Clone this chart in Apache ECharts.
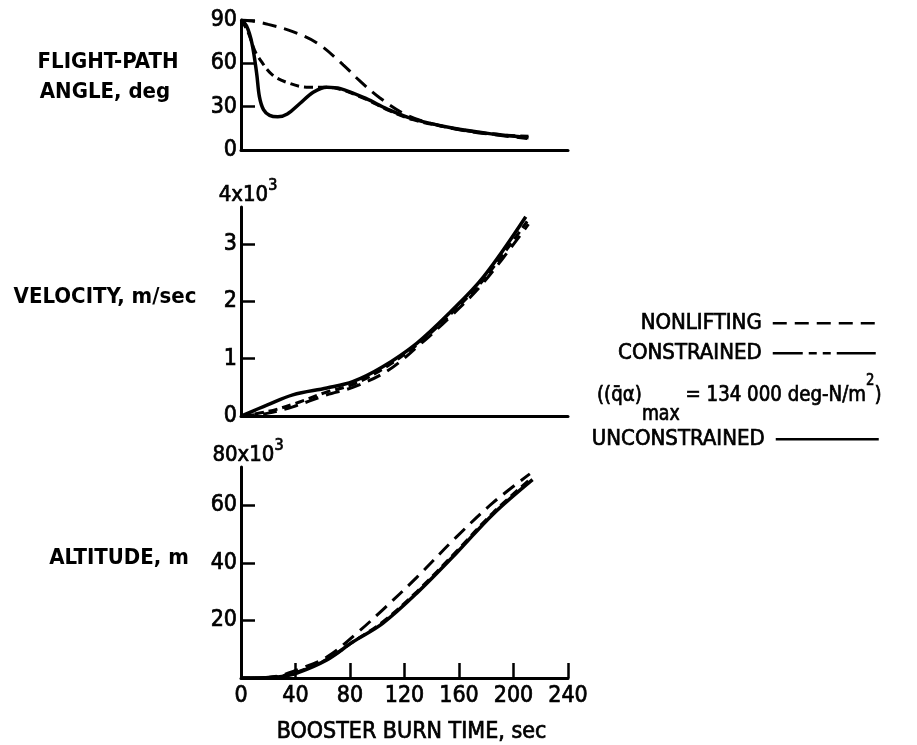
<!DOCTYPE html>
<html>
<head>
<meta charset="utf-8">
<title>Booster burn trajectories</title>
<script src="https://cdn.jsdelivr.net/npm/echarts@6/dist/echarts.min.js"></script>
<style>
    html, body { margin: 0; padding: 0; background: #fff; }
    #chart { width: 917px; height: 745px; }
</style>
</head>
<body>
<div id="chart"></div>
<script>
// series names
var names = ['NONLIFTING', 'CONSTRAINED', 'UNCONSTRAINED'];

// flight-path angle, deg
var fpaNonT = [0, 10, 20, 38, 56, 75, 87, 102, 122, 141, 170, 210];
var fpaNonV = [90, 89, 87, 82, 74, 59, 48, 36, 24, 18, 12.5, 8];
var fpaConT = [0, 5, 10, 13, 23, 36, 48, 58, 68, 92, 107, 126, 156, 185, 211];
var fpaConV = [90, 82, 69, 64, 52, 46, 43.5, 43.5, 43, 35, 28, 21, 15, 11, 9.5];
var fpaUncT = [0, 4, 8, 11.5, 13.5, 16.5, 21, 27, 34, 43, 53, 63, 73, 92, 107, 126, 156, 185, 211];
var fpaUncV = [90, 86, 74, 53, 37, 28, 24, 23, 25, 32, 40, 43.5, 42.5, 35.5, 28.5, 21.5, 15, 11, 8.5];

// velocity, 10^3 m/sec
var velNonT = [0, 20, 38, 63, 82, 107, 129, 153, 178, 211];
var velNonV = [0, 0.05, 0.16, 0.37, 0.5, 0.78, 1.2, 1.72, 2.33, 3.35];
var velConT = [0, 20, 40, 63, 82, 104, 129, 153, 178, 210];
var velConV = [0, 0.08, 0.22, 0.42, 0.55, 0.82, 1.24, 1.76, 2.38, 3.4];
var velUncT = [0, 10, 19, 38, 63, 82, 104, 129, 153, 178, 209];
var velUncV = [0, 0.1, 0.19, 0.37, 0.49, 0.6, 0.86, 1.27, 1.8, 2.43, 3.48];

// altitude, 10^3 m
var altNonT = [0, 20, 30, 41, 63, 85, 104, 129, 158, 185, 212];
var altNonV = [0, 0.3, 1, 2.8, 7.3, 15.6, 23.7, 35, 49, 61, 71];
var altConT = [0, 20, 30, 41, 63, 82, 104, 129, 158, 185, 213];
var altConV = [0, 0.2, 0.7, 2, 6.5, 12.5, 19.5, 30, 44, 57.5, 69.5];
var altUncT = [0, 20, 30, 41, 63, 82, 104, 129, 158, 185, 214];
var altUncV = [0, 0.1, 0.5, 1.7, 6.3, 12.5, 19, 29.5, 43.4, 57, 69];

// tick labels
var timeTicks = [0, 40, 80, 120, 160, 200, 240];
var fpaTicks = [0, 30, 60, 90];
var velTicks = [0, 1, 2, 3];
var altTicks = [20, 40, 60];

var FONT = "'Liberation Sans Narrow','DejaVu Sans Condensed',sans-serif";
var INK = '#000';

function pairs(t, v) {
    var out = [];
    for (var i = 0; i < t.length; i++) out.push([t[i], v[i]]);
    return out;
}

var dashStyle = [[14, 8], [9, 5], 'solid'];
var widths = [3, 3, 3.5];

function mkSeries(idx, name, t, v) {
    var k = names.indexOf(name);
    return {
        name: name, type: 'line', xAxisIndex: idx, yAxisIndex: idx,
        data: pairs(t, v), smooth: 0.35, symbol: 'none', silent: true,
        lineStyle: { color: INK, width: widths[k], type: dashStyle[k] },
        itemStyle: { color: INK }
    };
}

// heavier strokes like the scanned type
var ink = { textBorderColor: INK, textBorderWidth: 0.7 };

var axisLine = { show: true, onZero: false, lineStyle: { color: INK, width: 3 } };
var labelStyle = Object.assign({ color: INK, fontSize: 23, fontFamily: FONT }, ink);
var supRich = {
    a: Object.assign({ fontSize: 22, fontFamily: FONT, color: INK, lineHeight: 28, verticalAlign: 'bottom' }, ink),
    s: Object.assign({ fontSize: 16, fontFamily: FONT, color: INK, lineHeight: 16, verticalAlign: 'top' }, ink)
};

function mkX(idx, top) {
    var ax = {
        gridIndex: idx, type: 'value', min: 0, max: 240, interval: 40,
        axisLine: axisLine, splitLine: { show: false },
        axisTick: { show: false }, axisLabel: { show: false }
    };
    if (!top) {
        ax.axisTick = { show: true, inside: true, length: 15, customValues: timeTicks.slice(1),
            lineStyle: { color: INK, width: 2.5 } };
        ax.axisLabel = Object.assign({ show: true, margin: 7, customValues: timeTicks }, labelStyle);
        ax.name = 'BOOSTER BURN TIME, sec';
        ax.nameLocation = 'middle';
        ax.nameGap = 43;
        ax.nameTextStyle = Object.assign({ color: INK, fontSize: 23, fontFamily: FONT, padding: [0, 0, 0, 14] }, ink);
    }
    return ax;
}

function mkY(idx, max, ticks, labels, name) {
    var ax = {
        gridIndex: idx, type: 'value', min: 0, max: max,
        axisLine: axisLine, splitLine: { show: false },
        axisTick: { show: true, inside: true, length: 14, customValues: ticks,
            lineStyle: { color: INK, width: 2.5 } },
        axisLabel: Object.assign({ margin: 4, customValues: labels }, labelStyle)
    };
    if (name) {
        ax.name = name;
        ax.nameLocation = 'end';
        ax.nameGap = 1;
        ax.nameTextStyle = { rich: supRich, align: 'center', padding: [0, 0, 0, 14] };
    }
    return ax;
}

var chart = echarts.init(document.getElementById('chart'), null, { renderer: 'canvas' });

var legendBase = {
    orient: 'horizontal', align: 'right', selectedMode: false,
    itemWidth: 103, itemHeight: 12, itemGap: 0, padding: 0,
    itemStyle: { opacity: 0, borderWidth: 0 },
    textStyle: Object.assign({ color: INK, fontSize: 22, fontFamily: FONT, padding: [0, 6, 0, 0] }, ink)
};

var titleStyle = { textAlign: 'center', textVerticalAlign: 'middle', fill: INK,
    fontSize: 22, fontFamily: FONT, fontWeight: 'bold' };
var noteText = { fontFamily: FONT, fill: INK, stroke: INK, lineWidth: 0.7 };

var option = {
    backgroundColor: '#fff',
    animation: false,
    grid: [
        { left: 241, width: 327, top: 20, height: 130, outerBoundsMode: 'none' },
        { left: 241, width: 327, top: 207, height: 209, outerBoundsMode: 'none' },
        { left: 241, width: 327, top: 467, height: 211, outerBoundsMode: 'none' }
    ],
    xAxis: [mkX(0, true), mkX(1, true), mkX(2, false)],
    yAxis: [
        mkY(0, 90, fpaTicks.slice(1), fpaTicks),
        mkY(1, 3.65, velTicks.slice(1), velTicks, '{a|4x10}{s|3}'),
        mkY(2, 73.4, altTicks, altTicks, '{a|80x10}{s|3}')
    ],
    legend: [
        Object.assign({}, legendBase, { data: ['NONLIFTING'], right: 40, top: 312,
            lineStyle: { width: 2.5 } }),
        Object.assign({}, legendBase, { data: ['CONSTRAINED'], right: 40, top: 342,
            lineStyle: { width: 2.5, type: [30, 6, 8, 6, 8, 6, 40] } }),
        Object.assign({}, legendBase, { data: ['UNCONSTRAINED'], right: 37, top: 428,
            lineStyle: { width: 2.5 } })
    ],
    graphic: [
        { type: 'text', x: 108, y: 62, style: Object.assign({ text: 'FLIGHT-PATH' }, titleStyle) },
        { type: 'text', x: 105, y: 92, style: Object.assign({ text: 'ANGLE, deg' }, titleStyle) },
        { type: 'text', x: 105, y: 297, style: Object.assign({ text: 'VELOCITY, m/sec' }, titleStyle) },
        { type: 'text', x: 119, y: 558, style: Object.assign({ text: 'ALTITUDE, m' }, titleStyle) },
        { type: 'text', x: 597, y: 365, scaleX: 0.92, style: {
            text: '{t|((q\u0304\u03b1)}{sub|max}{t| = 134 000 deg-N/m}{sup|2}{t|)}',
            rich: {
                t: Object.assign({ fontSize: 22, lineHeight: 60, verticalAlign: 'middle' }, noteText),
                sub: Object.assign({ fontSize: 21, lineHeight: 24, verticalAlign: 'bottom' }, noteText),
                sup: Object.assign({ fontSize: 16, lineHeight: 32, verticalAlign: 'top', padding: [8, 0, 0, 0] }, noteText)
            }
        } }
    ],
    series: [
        mkSeries(0, 'NONLIFTING', fpaNonT, fpaNonV),
        mkSeries(0, 'CONSTRAINED', fpaConT, fpaConV),
        mkSeries(0, 'UNCONSTRAINED', fpaUncT, fpaUncV),
        mkSeries(1, 'NONLIFTING', velNonT, velNonV),
        mkSeries(1, 'CONSTRAINED', velConT, velConV),
        mkSeries(1, 'UNCONSTRAINED', velUncT, velUncV),
        mkSeries(2, 'NONLIFTING', altNonT, altNonV),
        mkSeries(2, 'CONSTRAINED', altConT, altConV),
        mkSeries(2, 'UNCONSTRAINED', altUncT, altUncV)
    ]
};

chart.setOption(option);
</script>
</body>
</html>
